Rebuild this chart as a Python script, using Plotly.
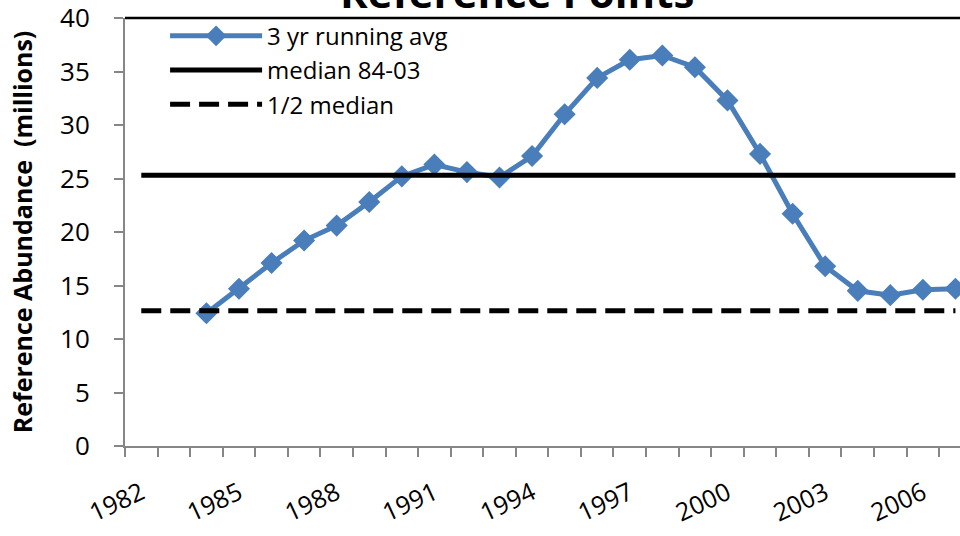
import plotly.graph_objects as go

# ---- data ----
years = list(range(1984, 2008))
running_avg = [12.4, 14.7, 17.1, 19.2, 20.6, 22.8, 25.2, 26.3, 25.6, 25.1, 27.1,
               31.0, 34.4, 36.1, 36.5, 35.4, 32.3, 27.3, 21.7, 16.8, 14.5, 14.1, 14.6, 14.7]
ref_years = list(range(1982, 2008))
median_value = 25.3
median_line = [median_value] * len(ref_years)
half_median_line = [median_value / 2] * len(ref_years)
x_tick_vals = list(range(1982, 2007, 3))
x_tick_text = [str(v) for v in x_tick_vals]
y_tick_vals = list(range(0, 45, 5))

FONT = "Open Sans"
BLUE = "#4A7EBB"
GREY = "#868686"

fig = go.Figure()
fig.add_trace(go.Scatter(
    x=years, y=running_avg, mode="lines+markers", name="3 yr running avg",
    line=dict(color=BLUE, width=5),
    marker=dict(symbol="diamond", size=17, color=BLUE),
))
fig.add_trace(go.Scatter(
    x=ref_years, y=median_line, mode="lines", name="median 84-03",
    line=dict(color="black", width=5),
))
fig.add_trace(go.Scatter(
    x=ref_years, y=half_median_line, mode="lines", name="1/2 median",
    line=dict(color="black", width=5, dash="20px,9px"),
))

fig.update_layout(
    width=960, height=536,
    margin=dict(l=125, r=0, t=18, b=90, autoexpand=False),
    paper_bgcolor="white", plot_bgcolor="white",
    font=dict(family=FONT, size=24, color="black"),
    showlegend=True,
    legend=dict(x=0.048, y=1.01, xanchor="left", yanchor="top",
                bgcolor="rgba(0,0,0,0)", itemwidth=92, tracegroupgap=0,
                font=dict(family=FONT, size=24)),
    xaxis=dict(
        range=[1981.5, 2007.14], showgrid=False, zeroline=False, automargin=False,
        showline=True, linecolor=GREY, linewidth=2,
        tickmode="array", tickvals=x_tick_vals, ticktext=x_tick_text,
        ticks="", tickangle=-25, ticklabelstandoff=21,
        tickfont=dict(family=FONT, size=25),
        minor=dict(tickmode="linear", tick0=1981.5, dtick=1, ticks="outside",
                   ticklen=9, tickwidth=2, tickcolor=GREY, showgrid=False),
    ),
    yaxis=dict(
        range=[0, 40], showgrid=False, zeroline=False, automargin=False,
        showline=True, linecolor=GREY, linewidth=2,
        tickmode="array", tickvals=y_tick_vals,
        ticks="outside", ticklen=9, tickwidth=2, tickcolor=GREY,
        ticklabelstandoff=19, ticklabeloverflow="allow",
        tickfont=dict(family=FONT, size=26),
        title=dict(text="<b>Reference Abundance  (millions)</b>",
                   font=dict(family=FONT, size=25), standoff=20),
    ),
    shapes=[dict(type="line", xref="paper", yref="paper", x0=0, x1=1, y0=1, y1=1,
                 line=dict(color="black", width=2.5))],
    annotations=[dict(text="<b>Reference Points</b>", xref="paper", yref="paper",
                      x=0.469, y=1, xanchor="center", yanchor="bottom", yshift=-4,
                      showarrow=False, font=dict(family=FONT, size=42, color="black"))],
)

fig.write_html("out.html", config={"displayModeBar": False},
               post_script="document.body.style.margin='0';document.body.style.overflow='hidden';")
